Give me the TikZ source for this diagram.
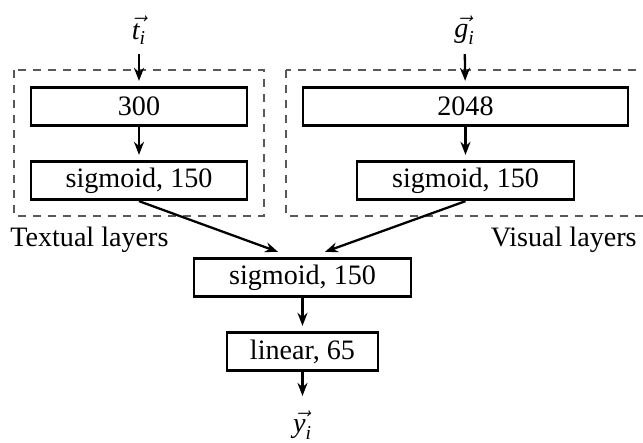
\documentclass[tikz,border=0pt]{standalone}
\usepackage{amsmath}
\usepackage{fontspec}
\setmainfont{Liberation Serif}
\usetikzlibrary{arrows.meta}
\newcommand{\vecit}[2]{$\vec{\textit{#1}_{\textit{#2}}}$}

\begin{document}
\fontsize{16}{19}\selectfont
\begin{tikzpicture}[x=1cm,y=1cm,
  layer/.style={draw, rectangle, line width=1.6pt, align=center, minimum height=0.77cm, inner sep=0pt},
  flow/.style={-{Stealth[length=0.26cm,width=0.2cm]}, line width=1.3pt, shorten >=0.1cm},
  group/.style={draw=black!65, line width=0.6pt, dash pattern=on 0.16cm off 0.14cm}]
\useasboundingbox (0,0) rectangle (12.86,-8.86);

\draw[group] (0.28,-1.4) rectangle (5.28,-4.32);
\begin{scope}
\clip (0,0) rectangle (12.86,-8.86);
\draw[group] (5.72,-1.4) rectangle (13.2,-4.32);
\end{scope}

\node (ti) at (2.78,-0.6) {\vecit{t}{i}};
\node (gi) at (9.29,-0.6) {\vecit{g}{i}};

\node[layer, minimum width=4.32cm] (text300) at (2.78,-2.13) {300};
\node[layer, minimum width=4.32cm] (textsig) at (2.78,-3.61) {sigmoid, 150};
\node[layer, minimum width=6.5cm] (vis2048) at (9.31,-2.13) {2048};
\node[layer, minimum width=4.34cm] (vissig) at (9.31,-3.61) {sigmoid, 150};
\node[layer, minimum width=4.34cm] (joint) at (6.05,-5.55) {sigmoid, 150};
\node[layer, minimum width=3.02cm] (out) at (6.05,-7.03) {linear, 65};
\node (yi) at (6.05,-8.5) {\vecit{y}{i}};

\node[anchor=base west, inner sep=0pt] (textlbl) at (0.2,-4.94) {Textual layers};
\node[anchor=base east, inner sep=0pt] (vislbl) at (12.74,-4.94) {Visual layers};

\draw[flow] (ti) -- (text300);
\draw[flow] (text300) -- (textsig);
\draw[flow] (gi) -- (vis2048);
\draw[flow] (vis2048) -- (vissig);
\draw[flow, shorten >=0pt] (textsig.south) -- ([xshift=-0.49cm,yshift=0.1cm]joint.north);
\draw[flow, shorten >=0pt] (vissig.south) -- ([xshift=0.45cm,yshift=0.1cm]joint.north);
\draw[flow] (joint) -- (out);
\draw[flow] (out) -- (yi);
\end{tikzpicture}
\end{document}
